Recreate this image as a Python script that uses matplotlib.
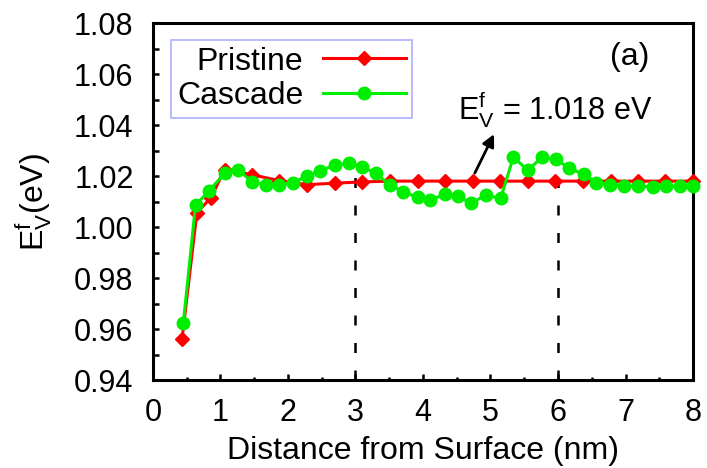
import numpy as np
import matplotlib
matplotlib.use("Agg")
import matplotlib.pyplot as plt
from matplotlib.ticker import MultipleLocator

plt.rcParams['font.family'] = ['Liberation Sans', 'DejaVu Sans']

# Pristine (red diamonds)
x_pristine = [0.43, 0.65, 0.86, 1.06, 1.47, 1.87, 2.28, 2.69, 3.10, 3.51, 3.92,
              4.33, 4.74, 5.14, 5.55, 5.96, 6.37, 6.78, 7.19, 7.59, 8.0]
y_pristine = [0.956, 1.0056, 1.0115, 1.0225, 1.0205, 1.0182, 1.0166, 1.0172,
              1.0177, 1.018, 1.018, 1.018, 1.018, 1.018, 1.018, 1.018, 1.018,
              1.018, 1.018, 1.018, 1.018]

# Cascade (green circles)
x_cascade = [0.45, 0.63, 0.83, 1.06, 1.26, 1.47, 1.67, 1.87, 2.08, 2.28, 2.48,
             2.70, 2.90, 3.09, 3.30, 3.51, 3.71, 3.92, 4.11, 4.33, 4.52, 4.71,
             4.93, 5.15, 5.34, 5.55, 5.76, 5.97, 6.17, 6.39, 6.57, 6.77, 6.98,
             7.19, 7.40, 7.60, 7.81, 8.0]
y_cascade = [0.9625, 1.0085, 1.0142, 1.021, 1.0223, 1.0178, 1.0165, 1.0165,
             1.0174, 1.020, 1.0221, 1.0243, 1.025, 1.0237, 1.0211, 1.0165,
             1.0138, 1.0116, 1.0107, 1.0128, 1.0122, 1.0093, 1.0125, 1.0112,
             1.0275, 1.0222, 1.0273, 1.0265, 1.023, 1.0206, 1.0174, 1.0165,
             1.0161, 1.016, 1.0158, 1.016, 1.016, 1.016]

dashed_x = [3, 6]
ev_value = 1.018

fig = plt.figure(figsize=(7.07, 4.68), dpi=100)
ax = fig.add_axes([0.2164, 0.188, 0.7638, 0.7628])

for xd in dashed_x:
    ax.plot([xd, xd], [0.94, 1.0235], color='black', lw=1.8,
            dashes=(4, 7), zorder=1)

ax.plot(x_pristine, y_pristine, color='#ff0000', lw=2.2, marker='D',
        markersize=7, label='Pristine', zorder=3, clip_on=False)
ax.plot(x_cascade, y_cascade, color='#00ee00', lw=2.2, marker='o',
        markersize=9, label='Cascade', zorder=4, clip_on=False)

ax.set_xlim(0, 8)
ax.set_ylim(0.94, 1.08)
ax.xaxis.set_major_locator(MultipleLocator(1))
ax.xaxis.set_minor_locator(MultipleLocator(0.5))
ax.yaxis.set_major_locator(MultipleLocator(0.02))
ax.yaxis.set_minor_locator(MultipleLocator(0.01))
ax.yaxis.set_major_formatter(matplotlib.ticker.FormatStrFormatter('%.2f'))

for s in ax.spines.values():
    s.set_linewidth(2.2)
ax.tick_params(which='both', direction='in', top=False, right=False,
               width=1.8, labelsize=22)
ax.tick_params(axis='x', which='major', length=4, pad=13)
ax.tick_params(axis='x', which='minor', length=2.5)
ax.tick_params(axis='y', which='both', length=4, pad=14)

ax.set_xlabel('Distance from Surface (nm)', fontsize=23, labelpad=6)
ax.set_ylabel(r'$\mathregular{E_V^f}$(eV)', fontsize=23, labelpad=14)

ax.text(7.36, 1.0635, '(a)', fontsize=23, ha='right', va='baseline')
ax.text(4.52, 1.042, r'$\mathregular{E_V^f}$ = 1.018 eV', fontsize=22,
        ha='left', va='baseline')
ax.annotate('', xy=(5.07, 1.0374), xytext=(4.75, ev_value + 0.0022),
            arrowprops=dict(arrowstyle='-|>', color='black', lw=2,
                            mutation_scale=18))

leg = ax.legend(loc='upper left', bbox_to_anchor=(0.033, 0.952),
                borderaxespad=0, markerfirst=False, fontsize=23,
                handlelength=2.6, handletextpad=0.6, labelspacing=0.15,
                borderpad=0.2, fancybox=False, numpoints=1)
leg.get_frame().set_edgecolor('#9999ff')
leg.get_frame().set_linewidth(1.2)

fig.savefig('out.png', dpi=100)
